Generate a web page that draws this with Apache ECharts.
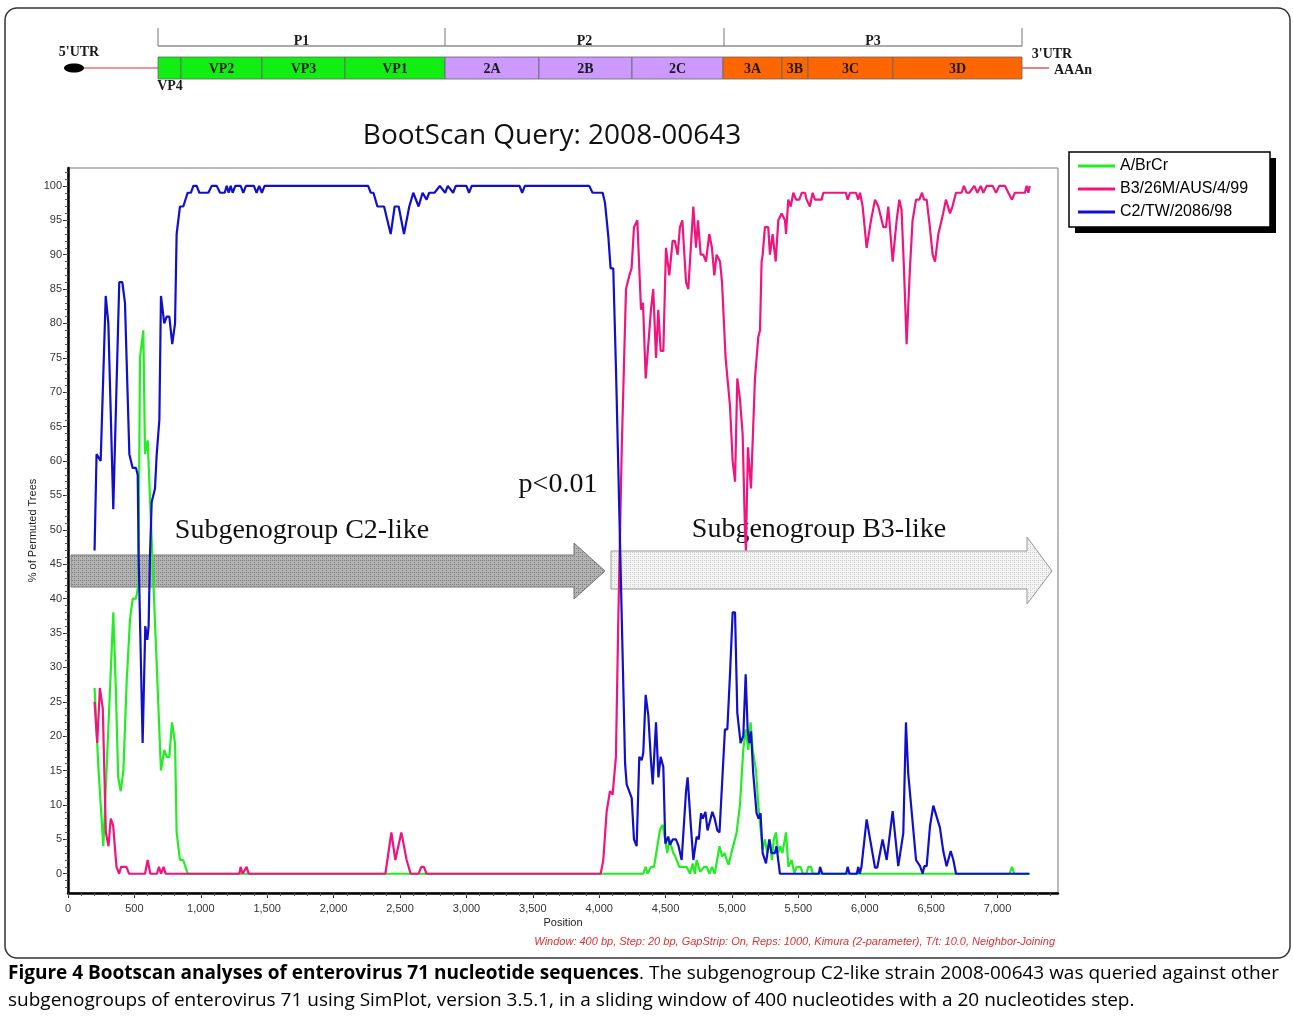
<!DOCTYPE html>
<html><head><meta charset="utf-8">
<script src="https://cdn.jsdelivr.net/npm/echarts@6/dist/echarts.min.js"></script>
<style>html,body{margin:0;padding:0;background:#fff}#c{width:1293px;height:1020px}</style>
</head><body><div id="c"></div>
<script>
// ---------------- DATA ----------------
const seriesNames = ['A/BrCr', 'B3/26M/AUS/4/99', 'C2/TW/2086/98'];

const greenPos = [200,230,266,341,360,378,397,417,442,467,487,512,530,542,567,580,600,700,725,743,763,783,806,818,843,868,901,4332,4350,4365,4390,4413,4458,4478,4513,4528,4558,4573,4603,4628,4658,4684,4704,4720,4734,4760,4790,4810,4830,4850,4870,4906,4925,4945,4960,4975,4995,5035,5060,5085,5103,5123,5140,5156,5181,5198,5213,5231,5248,5266,5286,5300,5315,5331,5348,5364,5380,5407,5425,5449,5470,5487,5515,5535,5560,5575,5595,5610,7090,7108,7125,7240];
const greenVal = [27,15,4,38,27,14,12,15,28,37,40,40,42,75,79,61,63,15,18,17,17,22,19,6,2,2,0,0,1,0,1,1,6.4,7.1,3,5,3,2.5,1,1,1,0,1.5,0,2,0.3,1,1,0,1,0,4,2.5,3,2,1.3,3,6,10,18,21,18,22,18,15,10,7,3.5,5,3,5,2,5,6,3,4,3,6,1,2,0,1,1,0,0,1,1,0,0,1,0,0];

const pinkPos = [200,220,240,262,285,305,322,340,365,385,400,440,460,580,600,620,670,685,700,710,720,735,1290,1300,1315,1345,1360,2390,2435,2465,2510,2550,2580,2640,2660,2680,2700,4011,4031,4056,4081,4101,4126,4144,4170,4202,4227,4244,4262,4287,4315,4330,4350,4370,4390,4407,4428,4445,4463,4483,4503,4528,4553,4570,4591,4608,4626,4654,4671,4709,4729,4744,4764,4784,4804,4829,4849,4867,4884,4910,4925,4952,4965,4985,5005,5023,5040,5060,5080,5098,5105,5120,5130,5143,5173,5198,5211,5223,5231,5248,5273,5286,5306,5329,5349,5374,5399,5407,5424,5442,5462,5482,5507,5525,5550,5562,5587,5607,5625,5675,5688,5858,5871,5889,5934,5951,5964,5984,6014,6047,6077,6102,6140,6160,6177,6210,6240,6260,6277,6295,6315,6340,6360,6386,6411,6431,6446,6466,6490,6511,6529,6554,6566,6590,6611,6642,6660,6687,6729,6747,6767,6787,6825,6848,6873,6893,6918,6963,6988,7013,7056,7081,7108,7131,7206,7219,7232,7242];
const pinkVal = [25,19,27,24,6,4,8,7,1,0,1,1,0,0,2,0,0,1,0,0,1,0,0,1,0,1,0,0,6,2,6,2,0,0,1,1,0,0,2,9,12,11.5,17,37,62,85,87,88,94,95,82,83,72,77,82,85,75,82,76,76,91,87,92,92,90,94,95,86,85,97,91,95,90,90,89,93,91,87,90,89,86,75,75,68,60,57,72,69,64,50,47,62,62,56,72,78,79,89,90,94,94,90,93,89,95,96,95,93,98,97,99,98,98,99,99,98,97,99,98,98,99,99,98,99,99,98,99,97,91,95,98,97,94,94,97,89,95,98,96.5,88,77,88,95,98,98,99,98,98,94,90,89,93,93,96,98,96,97,99,99,100,99,99,100,99,100,99,100,100,99,100,100,99,98,99,99,100,99,100];

const bluePos = [200,215,225,246,284,304,341,386,409,429,462,487,512,525,532,562,582,597,607,617,630,655,668,688,700,725,743,763,785,806,818,843,868,901,925,944,969,989,1057,1082,1120,1145,1180,1195,1210,1225,1240,1260,1300,1320,1340,1400,1420,1440,1460,1480,2260,2280,2300,2330,2380,2430,2460,2490,2530,2570,2600,2640,2670,2700,2720,2760,2800,2840,2860,2900,2920,3000,3020,3040,3400,3420,3440,3925,3950,4026,4044,4069,4086,4106,4127,4144,4169,4195,4207,4245,4262,4282,4302,4320,4332,4350,4370,4388,4403,4428,4446,4463,4483,4498,4520,4533,4555,4578,4598,4621,4654,4666,4690,4709,4734,4750,4767,4780,4800,4816,4852,4870,4890,4906,4947,4965,4985,5005,5023,5040,5065,5085,5103,5118,5130,5143,5160,5185,5200,5215,5231,5256,5281,5298,5323,5335,5361,5655,5663,5680,5860,5871,5885,5940,5951,5962,5975,6014,6077,6094,6134,6147,6165,6210,6252,6290,6310,6327,6386,6416,6436,6448,6466,6491,6516,6529,6566,6591,6616,6647,6667,6687,7240];
const blueVal = [47,61,61,60,84,80,53,86,86,83,61,59,59,58,46,19,36,34,36,46,54,56,61,66,84,80,81,81,77,80,93,97,97,99,99,100,100,99,99,100,100,99,99,100,99,100,99,100,100,99,100,100,99,100,99,100,100,99,99,97,97,93,97,97,93,97,99,97,99,98,99,99,100,99,100,99,100,100,99,100,100,99,100,100,99,99,97.5,92.6,88,88,73,59,38,16,13,11,5,4,17,16.5,17.6,26,23,17,13,22,14,17,15.5,4.4,5.4,4.2,5,5,4,2,12,14,7,2,5.4,5,8.8,8,9,6.3,9,8,6.3,6,21,21,29,38,38,23.4,19,20,29,21,19,20.7,14.6,8.8,8,8.8,3,1.5,5,3,3,4,0,0,1,0,0,1,0,0,1,0,1,7.9,0.9,0.9,5,5,2,9.1,1.1,5.9,22,14.6,2,1.1,0,1.1,1.1,6.9,9.9,9.9,6.7,3.3,1.1,3.3,2,0,0];

const xTickValues = [0,500,1000,1500,2000,2500,3000,3500,4000,4500,5000,5500,6000,6500,7000];
const yTickValues = [0,5,10,15,20,25,30,35,40,45,50,55,60,65,70,75,80,85,90,95,100];

// genome map
const genomeNames = ['VP4','VP2','VP3','VP1','2A','2B','2C','3A','3B','3C','3D'];
const genomeGroups = ['P1','P2','P3'];

// ---------------- LAYOUT ----------------
const genomeEdges = [158,181,262,345,445,539,632,723,782,808,893,1022];
const genomeFill = ['#11ee11','#11ee11','#11ee11','#11ee11','#cc99ff','#cc99ff','#cc99ff','#ff6600','#ff6600','#ff6600','#ff6600'];
const groupEdges = [158,445,724,1022];

function pairs(p, v) { return p.map((x, i) => [x, v[i]]); }

const minorX = []; for (let v = 0; v <= 7400; v += 100) minorX.push(v);
const minorY = []; for (let v = -2; v <= 102; v += 1) minorY.push(v);

function pattern(base, dot) {
  const c = document.createElement('canvas'); c.width = 4; c.height = 4;
  const g = c.getContext('2d'); g.fillStyle = base; g.fillRect(0, 0, 4, 4);
  g.fillStyle = dot; g.fillRect(0, 0, 1, 1); g.fillRect(2, 2, 1, 1); g.fillRect(2,0,1,1);
  return { image: c, repeat: 'repeat' };
}

const serif = '"Liberation Serif", "Times New Roman", serif';
const sans = '"Liberation Sans", Arial, sans-serif';

function txt(x, y, text, font, fill, align, valign, z) {
  return { type: 'text', x: x, y: y, z: z || 1, silent: true,
    style: { text: text, font: font, fill: fill || '#111', align: align || 'center', verticalAlign: valign || 'middle',
             textAlign: align || 'center', textVerticalAlign: valign || 'middle' } };
}

const G = [];
// outer rounded frame
G.push({ type: 'rect', z: 0, shape: { x: 5, y: 8, width: 1285, height: 950, r: 12 }, style: { fill: 'none', stroke: '#333', lineWidth: 1.5 } });

// genome map
const gFont = 'bold 14px ' + serif;
G.push({ type: 'line', shape: { x1: groupEdges[0], y1: 46, x2: groupEdges[3], y2: 46 }, style: { stroke: '#555', lineWidth: 1 } });
groupEdges.forEach(e => G.push({ type: 'line', shape: { x1: e, y1: 28, x2: e, y2: 46 }, style: { stroke: '#777', lineWidth: 1 } }));
genomeGroups.forEach((n, i) => G.push(txt((groupEdges[i] + groupEdges[i + 1]) / 2, 41, n, gFont, '#1a1a1a')));
genomeNames.forEach((n, i) => {
  const a = genomeEdges[i], b = genomeEdges[i + 1];
  G.push({ type: 'rect', shape: { x: a, y: 57, width: b - a, height: 22 }, style: { fill: genomeFill[i], stroke: '#666', lineWidth: 0.8 } });
  if (n === 'VP4') G.push(txt(170, 86, n, gFont, '#1a1a1a'));
  else G.push(txt((a + b) / 2, 69, n, gFont, '#1a1a1a'));
});
G.push({ type: 'line', shape: { x1: 84, y1: 68, x2: 158, y2: 68 }, style: { stroke: '#e03030', lineWidth: 1.2 } });
G.push({ type: 'ellipse', shape: { cx: 74, cy: 68, rx: 10, ry: 4.5 }, style: { fill: '#000' } });
G.push(txt(79, 52, "5'UTR", gFont, '#1a1a1a'));
G.push({ type: 'line', shape: { x1: 1022, y1: 68, x2: 1049, y2: 68 }, style: { stroke: '#e03030', lineWidth: 1.2 } });
G.push(txt(1052, 54, "3'UTR", gFont, '#1a1a1a'));
G.push(txt(1073, 70, 'AAAn', gFont, '#1a1a1a'));

// title
G.push(txt(552, 136, 'BootScan Query: 2008-00643', '28px "Open Sans", sans-serif', '#111'));

// arrows
G.push({ type: 'polygon', z: 0, shape: { points: [[71,555],[574,555],[574,543],[605,571],[574,599],[574,587],[71,587]] },
  style: { fill: pattern('#b4b4b4', '#7a7a7a'), stroke: '#777', lineWidth: 1 } });
G.push({ type: 'polygon', z: 0, shape: { points: [[611,551],[1027,551],[1027,537],[1052,571],[1027,604],[1027,589],[611,589]] },
  style: { fill: pattern('#f2f2f2', '#d0d0d0'), stroke: '#999', lineWidth: 1 } });
G.push(txt(302, 531, 'Subgenogroup C2-like', '28px ' + serif, '#111', 'center', 'middle', 0));
G.push(txt(819, 530, 'Subgenogroup B3-like', '28px ' + serif, '#111', 'center', 'middle', 0));
G.push(txt(558, 485, 'p<0.01', '28px ' + serif, '#111', 'center', 'middle', 0));

// note
G.push(txt(1055, 942, 'Window: 400 bp, Step: 20 bp, GapStrip: On, Reps: 1000, Kimura (2-parameter), T/t: 10.0, Neighbor-Joining', 'italic 11px ' + sans, '#e03030', 'right'));

// legend box + shadow
G.push({ type: 'rect', z: 0, shape: { x: 1075, y: 158, width: 201, height: 75 }, style: { fill: '#000' } });
G.push({ type: 'rect', z: 0, shape: { x: 1069, y: 152, width: 201, height: 75 }, style: { fill: '#fff', stroke: '#000', lineWidth: 1.5 } });

// caption, justified line 1
(function () {
  const size = 19, fam = '"Open Sans", sans-serif';
  const ctx = document.createElement('canvas').getContext('2d');
  const w = (t, b) => { ctx.font = (b ? 'bold ' : '') + size + 'px ' + fam; return ctx.measureText(t).width; };
  const boldWords = 'Figure 4 Bootscan analyses of enterovirus 71 nucleotide sequences'.split(' ');
  const restWords = 'The subgenogroup C2-like strain 2008-00643 was queried against other'.split(' ');
  const tokens = boldWords.map((t, i) => ({ parts: i === boldWords.length - 1 ? [[t, 1], ['.', 0]] : [[t, 1]] }))
    .concat(restWords.map(t => ({ parts: [[t, 0]] })));
  tokens.forEach(tk => tk.w = tk.parts.reduce((s, p) => s + w(p[0], p[1]), 0));
  const total = tokens.reduce((s, t) => s + t.w, 0);
  const L = 8, R = 1279, gap = (R - L - total) / (tokens.length - 1);
  let x = L;
  tokens.forEach(tk => {
    let px = x;
    tk.parts.forEach(p => {
      G.push(txt(px, 974, p[0], (p[1] ? 'bold ' : '') + size + 'px ' + fam, '#000', 'left'));
      px += w(p[0], p[1]);
    });
    x += tk.w + gap;
  });
  G.push(txt(L, 1001, 'subgenogroups of enterovirus 71 using SimPlot, version 3.5.1, in a sliding window of 400 nucleotides with a 20 nucleotides step.', size + 'px ' + fam, '#000', 'left'));
})();

const chart = echarts.init(document.getElementById('c'), null, { renderer: 'canvas', width: 1293, height: 1020 });
const colors = ['#22ee22', '#f0147f', '#1010cc'];
const vals = [[greenPos, greenVal], [pinkPos, pinkVal], [bluePos, blueVal]];

chart.setOption({
  animation: false,
  backgroundColor: '#fff',
  grid: { left: 68, right: 235, top: 168, bottom: 127, show: true, borderColor: '#777', borderWidth: 1 },
  legend: {
    data: seriesNames, orient: 'vertical', left: 1073, top: 153, itemWidth: 37, itemHeight: 3, itemGap: 7,
    icon: 'rect', textStyle: { fontSize: 16, fontFamily: sans, color: '#000' }, selectedMode: false
  },
  xAxis: [
    { type: 'value', min: 0, max: 7455, axisLine: { onZero: false, lineStyle: { color: '#000', width: 2.5 } },
      axisTick: { customValues: xTickValues, length: 5, lineStyle: { color: '#222' } },
      axisLabel: { customValues: xTickValues, formatter: v => v.toLocaleString('en-US'), fontSize: 11, fontFamily: sans, color: '#333', margin: 10 },
      splitLine: { show: false }, name: 'Position', nameLocation: 'middle', nameGap: 24, nameMoveOverlap: false,
      nameTextStyle: { fontSize: 11, fontFamily: sans, color: '#222' } },
    { type: 'value', min: 0, max: 7455, position: 'bottom', axisLine: { show: false, onZero: false },
      axisTick: { customValues: minorX, length: 3, lineStyle: { color: '#555' } }, axisLabel: { show: false }, splitLine: { show: false } }
  ],
  yAxis: [
    { type: 'value', min: -2.8, max: 102.6, axisLine: { show: true, onZero: false, lineStyle: { color: '#000', width: 2.5 } },
      axisTick: { show: true, customValues: yTickValues, length: 5, lineStyle: { color: '#222' } },
      axisLabel: { customValues: yTickValues, fontSize: 11, fontFamily: sans, color: '#333', margin: 6 },
      splitLine: { show: false }, name: '% of Permuted Trees', nameLocation: 'middle', nameGap: 30, nameMoveOverlap: false,
      nameTextStyle: { fontSize: 11, fontFamily: sans, color: '#222' } },
    { type: 'value', min: -2.8, max: 102.6, position: 'left', axisLine: { show: false, onZero: false },
      axisTick: { show: true, customValues: minorY, length: 3, lineStyle: { color: '#555' } }, axisLabel: { show: false }, splitLine: { show: false } }
  ],
  graphic: { elements: G },
  series: seriesNames.map((n, i) => ({
    name: n, type: 'line', xAxisIndex: 0, yAxisIndex: 0, data: pairs(vals[i][0], vals[i][1]),
    showSymbol: false, symbol: 'none', lineStyle: { color: colors[i], width: 2.2 }, itemStyle: { color: colors[i] },
    z: 3 + i
  }))
});
</script></body></html>
